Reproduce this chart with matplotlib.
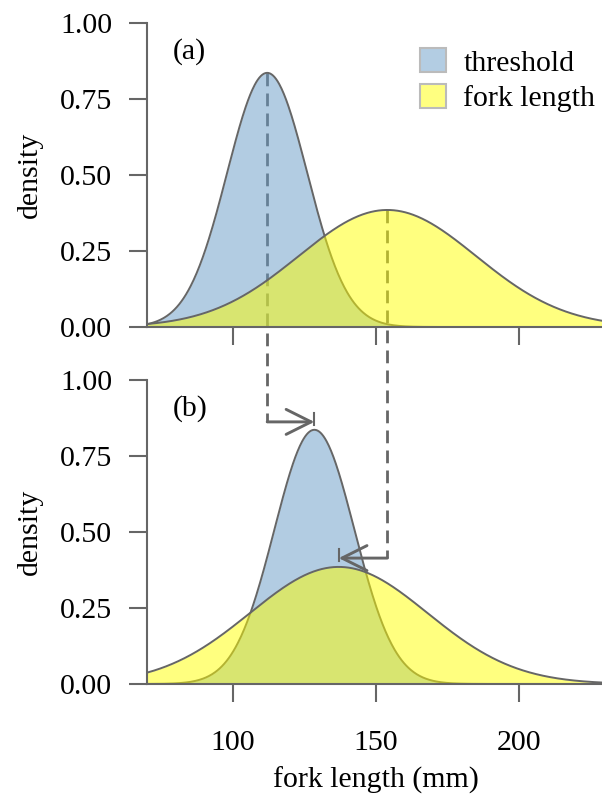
import numpy as np
import matplotlib
matplotlib.use("Agg")
import matplotlib.pyplot as plt
import matplotlib.patches as mpatches

plt.rcParams["font.family"] = ["Liberation Serif", "DejaVu Serif"]

# ── Data ──────────────────────────────────────────────────────────────────────
PANELS        = ["(a)", "(b)"]
THRESH_MEAN   = [112.0, 128.5]     # threshold distribution centre, per panel
FORK_MEAN     = [154.0, 137.0]     # fork-length distribution centre, per panel
THRESH_SD     = 14.0
FORK_SD       = 31.0
THRESH_PEAK   = 0.836               # scaled density at the mode
FORK_PEAK     = 0.385
ARROW_Y       = [0.862, 0.414]      # height of the shift arrows in panel (b)
X_TICKS       = [100, 150, 200]
Y_TICKS       = [0.00, 0.25, 0.50, 0.75, 1.00]
Y_TICKLABELS  = ["0.00", "0.25", "0.50", "0.75", "1.00"]
LEGEND_LABELS = ["threshold", "fork length"]

GREY   = "#666666"
BLUE   = (103 / 255, 155 / 255, 199 / 255, 0.5)
YELLOW = (1.0, 1.0, 0.0, 0.5)
FS     = 21.5


def scaled_normal(x, mu, sd, peak):
    return peak * np.exp(-0.5 * ((x - mu) / sd) ** 2)


fig = plt.figure(figsize=(6.02, 7.98), dpi=100)
ax_a = fig.add_axes([0.2442, 0.5902, 0.7605, 0.3810])
ax_b = fig.add_axes([0.2442, 0.1429, 0.7605, 0.3810])
axes = [ax_a, ax_b]

x = np.linspace(70, 230, 600)

for i, ax in enumerate(axes):
    ax.set_facecolor("none")
    ax.set_xlim(70, 230)
    ax.set_ylim(0, 1)

    thr = scaled_normal(x, THRESH_MEAN[i], THRESH_SD, THRESH_PEAK)
    frk = scaled_normal(x, FORK_MEAN[i], FORK_SD, FORK_PEAK)

    ax.fill_between(x, 0, thr, color=BLUE, lw=0, zorder=2)
    ax.plot(x, thr, color=GREY, lw=1.4, zorder=2.1)
    ax.fill_between(x, 0, frk, color=YELLOW, lw=0, zorder=3)
    ax.plot(x, frk, color=GREY, lw=1.4, zorder=3.1)

    for s in ["top", "right"]:
        ax.spines[s].set_visible(False)
    for s in ["left", "bottom"]:
        ax.spines[s].set_color(GREY)
        ax.spines[s].set_linewidth(1.5)
        ax.spines[s].set_zorder(5)
    ax.set_yticks(Y_TICKS)
    ax.set_yticklabels(Y_TICKLABELS)
    ax.set_xticks(X_TICKS)
    ax.tick_params(axis="y", length=13, width=1.5, color=GREY,
                   labelsize=FS, pad=12)
    ax.tick_params(axis="x", length=13, width=1.5, color=GREY,
                   labelsize=FS, pad=20)
    ax.set_ylabel("density", fontsize=FS, labelpad=12)
    ax.text(79.0, 0.905, PANELS[i], fontsize=FS, va="center", ha="left")

ax_a.tick_params(axis="x", labelbottom=False)
ax_b.set_xlabel("fork length (mm)", fontsize=FS, labelpad=8)

# ── Dashed guides from panel (a) modes down to the arrows in panel (b) ───────
to_a = ax_a.transData.inverted()
for mu_a, mu_b, peak, ay in zip(
        [THRESH_MEAN[0], FORK_MEAN[0]], [THRESH_MEAN[1], FORK_MEAN[1]],
        [THRESH_PEAK, FORK_PEAK], ARROW_Y):
    y_low = to_a.transform(ax_b.transData.transform((mu_a, ay)))[1]
    ax_a.plot([mu_a, mu_a], [peak, y_low], color=GREY, lw=2,
              dashes=(4.6, 2.6), clip_on=False, zorder=1)
    ax_b.annotate("", xy=(mu_b, ay), xytext=(mu_a, ay),
                  arrowprops=dict(arrowstyle="->,head_length=0.6,head_width=0.3",
                                  color=GREY, lw=2.1, mutation_scale=30,
                                  shrinkA=0, shrinkB=0),
                  zorder=6)
    ax_b.plot([mu_b, mu_b], [ay - 0.01, ay + 0.03], color=GREY, lw=1.5,
              zorder=6, clip_on=False)

# ── Legend ────────────────────────────────────────────────────────────────────
handles = [mpatches.Patch(facecolor="#b3cde3", edgecolor="#bbbbbb", lw=1.5),
           mpatches.Patch(facecolor="#ffff80", edgecolor="#bbbbbb", lw=1.5)]
ax_a.legend(handles, LEGEND_LABELS, loc="upper right", fontsize=FS,
            frameon=False, handlelength=0.85, handleheight=0.85,
            handletextpad=0.6, labelspacing=0.25,
            bbox_to_anchor=(1.038, 1.005))

fig.savefig("out.png", dpi=100)
